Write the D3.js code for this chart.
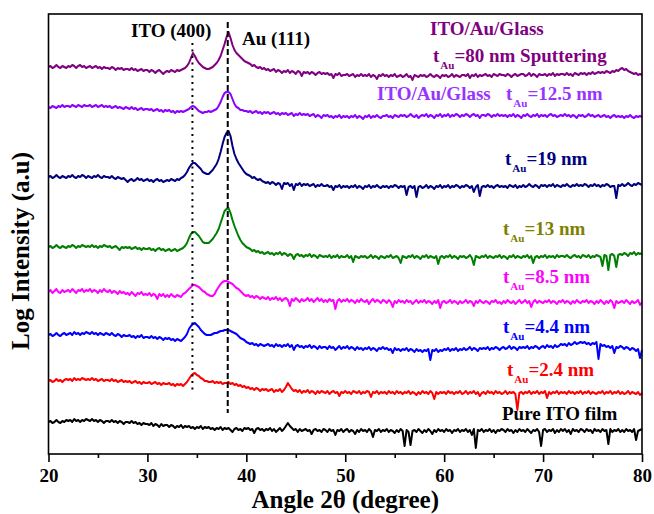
<!DOCTYPE html>
<html>
<head>
<meta charset="utf-8">
<script src="https://cdn.jsdelivr.net/npm/d3@7"></script>
<style>
  body { margin: 0; background: #fff; }
  text { font-family: "Liberation Serif", "Times New Roman", serif; font-weight: bold; }
</style>
</head>
<body>
<svg id="chart" width="654" height="514"></svg>
<script>
// 2theta grid of the scans, 0.2 degree step from 20 to 80
const angles = d3.range(301).map(i => +(20 + i * 0.2).toFixed(1));

// log intensity (a.u.), curves stacked as in the figure
const pureITO = [
  32,33,31,32,34,32,31,33,32,34, 33,34,32,35,33,34,32,34,33,35, 34,33,35,33,34,32,34,33,31,33,
  33,32,34,32,33,31,33,32,30,32, 32,31,33,31,32,30,31,29,31,30, 30,29,31,28,30,29,27,30,28,29,
  29,27,29,28,26,28,27,29,26,28, 27,28,26,27,25,27,26,28,25,27, 26,27,25,26,24,26,25,27,24,26,
  25,26,24,22,25,26,24,25,23,26, 25,26,24,25,21,25,26,24,25,23, 25,24,26,23,25,22,24,26,23,25,
  28,31,28,26,24,25,22,25,23,24, 25,23,24,20,24,25,23,24,22,25, 24,22,25,23,24,19,24,23,25,22,
  24,25,22,24,23,20,24,22,25,23, 24,22,25,23,17,24,23,25,22,24, 23,25,22,24,23,21,24,22,25,23,
  8,24,22,9,23,24,22,25,23,21,   24,22,25,23,20,24,22,25,23,24, 22,25,23,24,21,24,23,25,22,24,
  23,25,22,24,19,25,6,24,23,25,  22,24,23,25,22,24,21,24,23,25, 24,22,25,23,24,21,24,22,25,23,
  24,22,25,23,21,24,23,25,22,8,  24,25,22,24,23,25,21,24,22,25, 23,25,22,24,20,25,23,24,22,25,
  24,22,25,23,24,21,25,23,24,22, 25,23,24,10,25,22,24,23,25,22, 24,22,25,23,24,22,25,14,23,24,
  25
];
const tAu24 = [
  73,74,72,73,75,73,74,72,74,75, 74,75,73,76,74,75,74,76,75,74, 75,74,76,74,75,73,74,75,73,74,
  74,73,75,73,74,72,73,74,72,73, 72,73,71,72,73,71,72,70,72,71, 71,72,70,71,72,70,71,69,71,70,
  70,71,69,70,68,70,69,70,68,70, 72,75,78,80,81,79,78,76,75,73, 73,72,72,73,71,72,71,72,70,71,
  71,72,70,71,69,70,68,69,67,68, 66,67,65,66,64,66,65,63,65,64, 65,63,64,65,62,64,63,65,62,64,
  67,71,68,65,63,64,62,64,61,63, 62,64,61,63,62,60,63,61,63,62, 61,63,60,62,63,61,62,58,62,61,
  63,61,62,60,63,62,61,63,60,62, 61,63,62,57,62,61,63,60,62,61, 62,60,63,61,62,60,63,61,62,60,
  62,61,63,60,62,61,59,62,60,63, 61,62,60,63,61,55,62,60,62,61, 62,60,63,61,62,60,62,61,63,60,
  61,63,60,62,61,63,60,62,58,61, 62,60,63,61,62,60,63,61,62,60, 61,63,60,62,61,62,60,44,61,62,
  60,62,61,63,60,62,61,63,60,62, 61,63,56,62,60,62,61,63,60,62, 61,62,60,63,61,62,60,62,61,63,
  60,62,61,63,60,62,61,60,62,61, 63,60,62,61,63,60,62,61,63,60, 62,60,61,63,60,62,61,60,62,59,
  61
];
const tAu44 = [
  119,120,118,119,121,119,118,120,121,119, 120,121,119,122,120,121,119,121,120,122, 121,120,122,120,121,119,121,120,119,121,
  120,119,121,119,118,120,119,117,119,118, 118,119,117,118,116,118,117,119,116,117, 117,116,118,116,117,115,117,116,114,116,
  115,116,114,115,113,115,114,113,115,117, 120,125,128,130,131,129,127,124,122,120, 119,119,119,120,121,121,122,123,123,124,
  124,124,123,122,121,120,118,116,115,114, 112,111,110,111,109,110,108,110,109,108, 109,110,108,109,107,110,108,109,107,109,
  108,110,107,109,104,108,109,107,108,106, 108,107,109,106,108,107,105,108,106,107, 107,105,108,106,107,104,106,108,105,107,
  106,108,105,107,106,104,107,105,106,104, 106,105,107,104,106,105,103,106,105,107, 105,106,104,105,101,106,104,105,103,105,
  104,106,103,105,104,102,105,103,104,102, 104,103,105,94,104,103,105,102,104,103,  105,104,106,103,105,104,106,103,105,104,
  106,104,105,107,104,106,105,103,106,105, 106,105,107,104,106,105,107,106,104,106, 107,105,106,108,105,107,106,104,107,106,
  107,106,108,105,107,106,108,107,105,107, 108,106,109,107,108,106,109,107,108,110, 109,110,108,111,109,110,112,110,111,112,
  111,112,110,111,109,111,110,112,95,110,  108,109,107,108,106,108,101,107,106,108, 107,105,107,106,104,106,105,103,105,96,
  104
];
const tAu85 = [
  162,164,161,163,165,162,161,164,162,163, 164,162,165,163,161,164,163,165,162,164, 163,165,162,164,163,161,164,162,165,163,
  162,164,161,163,162,160,163,161,162,160, 161,159,162,160,158,161,160,162,159,160, 159,161,158,160,159,155,160,158,160,157,
  159,157,160,158,157,159,158,157,160,161, 163,165,167,169,169,168,167,165,163,162, 160,159,158,158,160,164,167,170,172,173,
  173,172,171,170,168,166,165,163,161,159, 158,159,157,158,156,158,157,155,157,156, 155,157,154,156,155,157,154,156,153,155,
  156,154,148,155,153,156,154,152,155,153, 154,156,153,155,152,154,156,153,155,152, 154,152,155,153,154,145,153,155,152,154,
  153,155,152,154,153,151,154,152,155,153, 152,154,150,153,155,152,154,153,151,154, 153,151,154,152,147,153,151,154,152,153,
  151,154,152,153,150,152,154,151,153,152, 154,151,153,152,150,153,151,154,146,152, 153,151,152,154,151,153,152,150,153,151,
  152,154,151,153,152,148,153,151,154,152, 151,153,152,150,153,152,154,151,152,150, 153,151,154,152,151,153,150,152,154,151,
  152,154,151,153,147,152,154,151,153,152, 151,153,152,154,151,153,152,150,153,152, 154,151,153,152,150,153,151,154,152,151,
  153,152,154,151,153,152,150,153,151,154, 152,150,153,151,154,152,146,153,151,152, 153,151,154,152,150,153,151,152,154,149,
  152
];
const tAu13 = [
  207,208,206,207,209,207,206,208,207,206, 208,207,209,208,206,208,207,209,208,207, 208,207,209,207,208,206,208,207,209,208,
  207,208,206,207,208,206,204,207,206,207, 206,207,205,206,207,205,206,204,206,205, 205,206,204,205,203,205,206,204,205,203,
  204,205,203,204,205,203,204,205,206,208, 211,216,220,222,222,220,218,215,212,211, 211,211,213,215,218,221,225,231,237,243,
  245,246,241,234,228,223,218,214,211,209, 207,206,205,203,204,202,203,201,202,200, 201,202,200,201,199,201,200,202,199,201,
  200,198,200,199,195,199,200,198,199,197, 199,198,200,197,199,198,196,199,198,197, 198,197,199,196,198,197,199,196,198,197,
  197,199,196,198,192,198,197,196,198,197, 198,196,197,199,196,198,197,195,198,197, 196,198,197,199,196,197,198,196,191,198,
  197,196,198,197,199,196,198,197,195,198, 197,199,196,198,197,196,198,190,197,198, 196,198,197,199,196,198,197,195,198,197,
  198,196,197,199,196,189,198,197,196,198, 197,199,196,198,197,196,198,197,199,196, 198,197,195,198,197,199,196,198,197,196,
  198,197,199,196,198,191,197,198,196,198, 197,199,196,198,197,198,196,199,197,198, 198,197,199,197,196,198,199,197,198,196,
  199,198,197,199,196,198,197,199,198,197, 188,199,198,184,199,200,198,187,199,200, 199,201,200,198,201,200,202,199,201,200,
  201
];
const tAu19 = [
  277,278,276,277,279,277,276,278,277,276, 278,277,279,277,276,278,277,279,278,276, 278,277,276,278,277,279,277,276,278,277,
  277,276,278,276,275,277,276,275,276,274, 272,274,275,273,274,276,274,275,273,274, 275,273,274,272,274,275,273,274,272,273,
  274,273,275,274,273,275,274,276,277,279, 282,286,289,291,291,289,287,285,282,281, 280,280,282,284,287,290,295,302,310,317,
  321,323,318,308,300,295,291,288,285,282, 280,279,278,276,277,275,274,275,273,272, 271,272,270,272,271,269,271,270,265,271,
  270,271,268,270,264,270,269,271,268,270, 269,270,268,269,270,267,269,268,270,268, 268,269,267,268,264,268,267,269,266,268,
  267,268,266,268,267,269,266,268,267,265, 268,267,269,266,268,267,269,267,266,268, 267,268,266,268,267,269,268,266,268,267,
  268,259,267,268,266,268,257,267,268,266, 267,269,266,268,267,265,268,267,269,266, 268,267,269,266,268,267,269,268,266,268,
  267,269,268,266,268,262,267,269,258,267, 268,267,269,267,268,266,268,269,267,268, 267,268,266,269,268,267,269,266,268,267,
  269,267,268,270,268,267,269,268,266,269, 268,269,267,269,268,270,267,269,268,267, 269,268,270,268,267,269,268,270,268,269,
  268,270,269,267,269,268,270,268,269,267, 269,268,270,269,267,268,268,256,269,268, 270,268,269,271,269,268,270,269,271,270,
  269
];
const tAu125 = [
  347,346,348,347,346,348,347,349,347,348, 348,347,349,348,347,349,348,347,349,348, 348,349,347,348,349,347,348,349,347,348,
  347,348,346,347,348,346,347,346,345,347, 346,345,347,345,346,344,345,346,344,345, 345,344,345,343,344,345,343,344,342,344,
  343,344,342,343,341,343,342,343,342,343, 344,345,347,348,347,345,343,342,341,342, 342,343,342,343,344,345,348,352,357,361,
  362,362,360,355,350,347,346,344,344,343, 343,342,343,341,342,343,341,342,340,342, 341,342,340,341,342,340,341,339,341,340,
  341,339,340,341,338,340,339,341,339,340, 339,340,338,339,340,337,339,338,336,339, 338,339,337,338,336,338,337,339,336,338,
  337,338,336,338,337,339,336,338,337,335, 338,337,339,336,338,337,339,337,336,338, 338,339,337,338,336,339,338,337,339,338,
  339,337,338,340,338,337,339,336,338,339, 338,340,337,339,338,336,339,338,340,337, 339,338,340,337,339,338,340,339,337,339,
  338,340,339,337,339,340,338,339,336,339, 339,338,340,339,337,339,338,340,338,339, 338,339,337,339,338,340,337,339,338,336,
  339,338,340,338,337,339,338,340,337,339, 338,339,337,339,340,338,339,337,338,339, 338,340,338,339,337,339,338,336,339,338,
  339,337,338,340,338,339,337,338,339,337, 338,339,337,338,336,338,339,337,338,337, 338,336,338,337,339,337,336,338,337,338,
  337
];
const tAu80 = [
  387,388,386,387,389,387,386,388,387,386, 388,387,389,388,386,388,389,387,388,386, 387,388,386,387,388,386,387,385,387,386,
  386,385,387,386,384,386,385,386,384,385, 385,384,386,384,385,383,384,385,383,384, 384,382,384,383,381,383,384,382,380,382,
  383,382,384,383,382,384,383,384,385,386, 388,391,396,401,398,394,391,389,387,386, 385,385,386,387,389,391,394,398,404,410,
  417,422,416,409,404,401,399,397,395,393, 392,391,390,388,389,387,386,387,385,386, 384,385,383,384,385,382,384,383,381,383,
  382,384,381,383,382,380,383,382,378,382, 381,382,380,382,381,379,381,382,380,381, 380,381,379,380,376,380,379,381,378,379,
  379,380,378,379,380,377,379,378,380,378, 379,378,380,377,379,378,375,379,378,380, 378,379,377,379,378,380,377,378,379,377,
  378,380,377,378,374,379,378,377,379,378, 379,377,378,380,378,377,379,378,376,379, 378,379,377,378,380,377,379,378,377,379,
  379,378,380,376,379,378,380,377,379,378, 379,380,378,379,377,380,379,378,380,379, 379,378,380,379,377,379,380,378,379,380,
  380,378,379,381,378,380,379,377,380,379, 379,380,378,380,379,381,378,380,379,380, 380,379,381,379,380,378,381,380,379,381,
  380,381,379,381,380,382,380,381,382,381, 382,381,383,382,381,383,382,384,383,385, 386,384,385,383,382,381,380,381,379,380,
  379
];

const xTicks = [20, 30, 40, 50, 60, 70, 80];
const xMinorTicks = [25, 35, 45, 55, 65, 75];
const peakAngles = [34.55, 38.12];   // ITO (400), Au (111)

const curves = [
  { id: 'ito',  values: pureITO, color: '#000000' },
  { id: 't24',  values: tAu24,   color: '#ff0000' },
  { id: 't44',  values: tAu44,   color: '#0000ff' },
  { id: 't85',  values: tAu85,   color: '#ff00ff' },
  { id: 't13',  values: tAu13,   color: '#008000' },
  { id: 't19',  values: tAu19,   color: '#000080' },
  { id: 't125', values: tAu125,  color: '#8c00ff' },
  { id: 't80',  values: tAu80,   color: '#800080' }
];
curves.forEach(c => { if (c.values.length !== angles.length) throw new Error(c.id + ' has ' + c.values.length); });

const W = 654, H = 514;
const margin = { top: 14, right: 12, bottom: 60, left: 48.5 };
const svg = d3.select('#chart');

const x = d3.scaleLinear().domain([20, 80]).range([margin.left, W - margin.right]);
const y = d3.scaleLinear().domain([0, 440]).range([H - margin.bottom, margin.top]);

// curves
const line = d3.line().x((d, i) => x(angles[i])).y(d => y(d));
svg.append('g').selectAll('path')
  .data(curves)
  .join('path')
  .attr('fill', 'none')
  .attr('stroke', d => d.color)
  .attr('stroke-width', 2)
  .attr('stroke-linejoin', 'round')
  .attr('d', d => line(d.values));

// peak guide lines
svg.append('line')
  .attr('x1', x(peakAngles[0])).attr('x2', x(peakAngles[0]))
  .attr('y1', 43).attr('y2', 393)
  .attr('stroke', '#000').attr('stroke-width', 2)
  .attr('stroke-dasharray', '2,4.5');
svg.append('line')
  .attr('x1', x(peakAngles[1])).attr('x2', x(peakAngles[1]))
  .attr('y1', 22).attr('y2', 413)
  .attr('stroke', '#000').attr('stroke-width', 2)
  .attr('stroke-dasharray', '6,3');

// frame
svg.append('rect')
  .attr('x', margin.left).attr('y', margin.top)
  .attr('width', W - margin.left - margin.right)
  .attr('height', H - margin.top - margin.bottom)
  .attr('fill', 'none').attr('stroke', '#000').attr('stroke-width', 1.6);

// x axis
const xAxis = svg.append('g')
  .attr('transform', `translate(0,${H - margin.bottom})`)
  .call(d3.axisBottom(x).tickValues(xTicks).tickSize(8).tickPadding(7).tickFormat(d3.format('d')));
xAxis.select('.domain').remove();
xAxis.selectAll('line').attr('stroke-width', 1.6);
xAxis.selectAll('text').attr('font-size', 19).attr('fill', '#000')
  .style('font-family', '"Liberation Serif", serif').style('font-weight', 'bold');

const xMinor = svg.append('g')
  .attr('transform', `translate(0,${H - margin.bottom})`)
  .call(d3.axisBottom(x).tickValues(xMinorTicks).tickSize(4).tickFormat(''));
xMinor.select('.domain').remove();
xMinor.selectAll('line').attr('stroke-width', 1.6);

// axis titles
svg.append('text')
  .attr('x', (margin.left + W - margin.right) / 2).attr('y', 508)
  .attr('text-anchor', 'middle').attr('font-size', 25)
  .text('Angle 2\u03b8 (degree)');
svg.append('text')
  .attr('transform', 'translate(29,251) rotate(-90)')
  .attr('text-anchor', 'middle').attr('font-size', 25)
  .text('Log Intensity (a.u)');

// peak names
svg.append('text').attr('x', 131).attr('y', 37).attr('font-size', 19).text('ITO (400)');
svg.append('text').attr('x', 242).attr('y', 45).attr('font-size', 19).text('Au (111)');

// curve labels
function tLabel(px, py, rest, color) {
  const t = svg.append('text').attr('x', px).attr('y', py).attr('font-size', 19).attr('fill', color);
  t.append('tspan').text('t');
  t.append('tspan').attr('font-size', 11).attr('dx', 1).attr('dy', 7).text('Au');
  t.append('tspan').attr('dy', -7).text(rest);
}
svg.append('text').attr('x', 430).attr('y', 35).attr('font-size', 19).attr('fill', '#800080').text('ITO/Au/Glass');
tLabel(433, 62, '=80 nm Sputtering', '#800080');
svg.append('text').attr('x', 377).attr('y', 100).attr('font-size', 19).attr('fill', '#9933ff').text('ITO/Au/Glass');
tLabel(506, 100, '=12.5 nm', '#9933ff');
tLabel(505, 165, '=19 nm', '#000080');
tLabel(503, 235, '=13 nm', '#808000');
tLabel(503, 283, '=8.5 nm', '#ff00ff');
tLabel(503, 333, '=4.4 nm', '#0000ff');
tLabel(507, 376, '=2.4 nm', '#ff0000');
svg.append('text').attr('x', 502).attr('y', 420).attr('font-size', 19).attr('fill', '#000').text('Pure ITO film');
</script>
</body>
</html>
